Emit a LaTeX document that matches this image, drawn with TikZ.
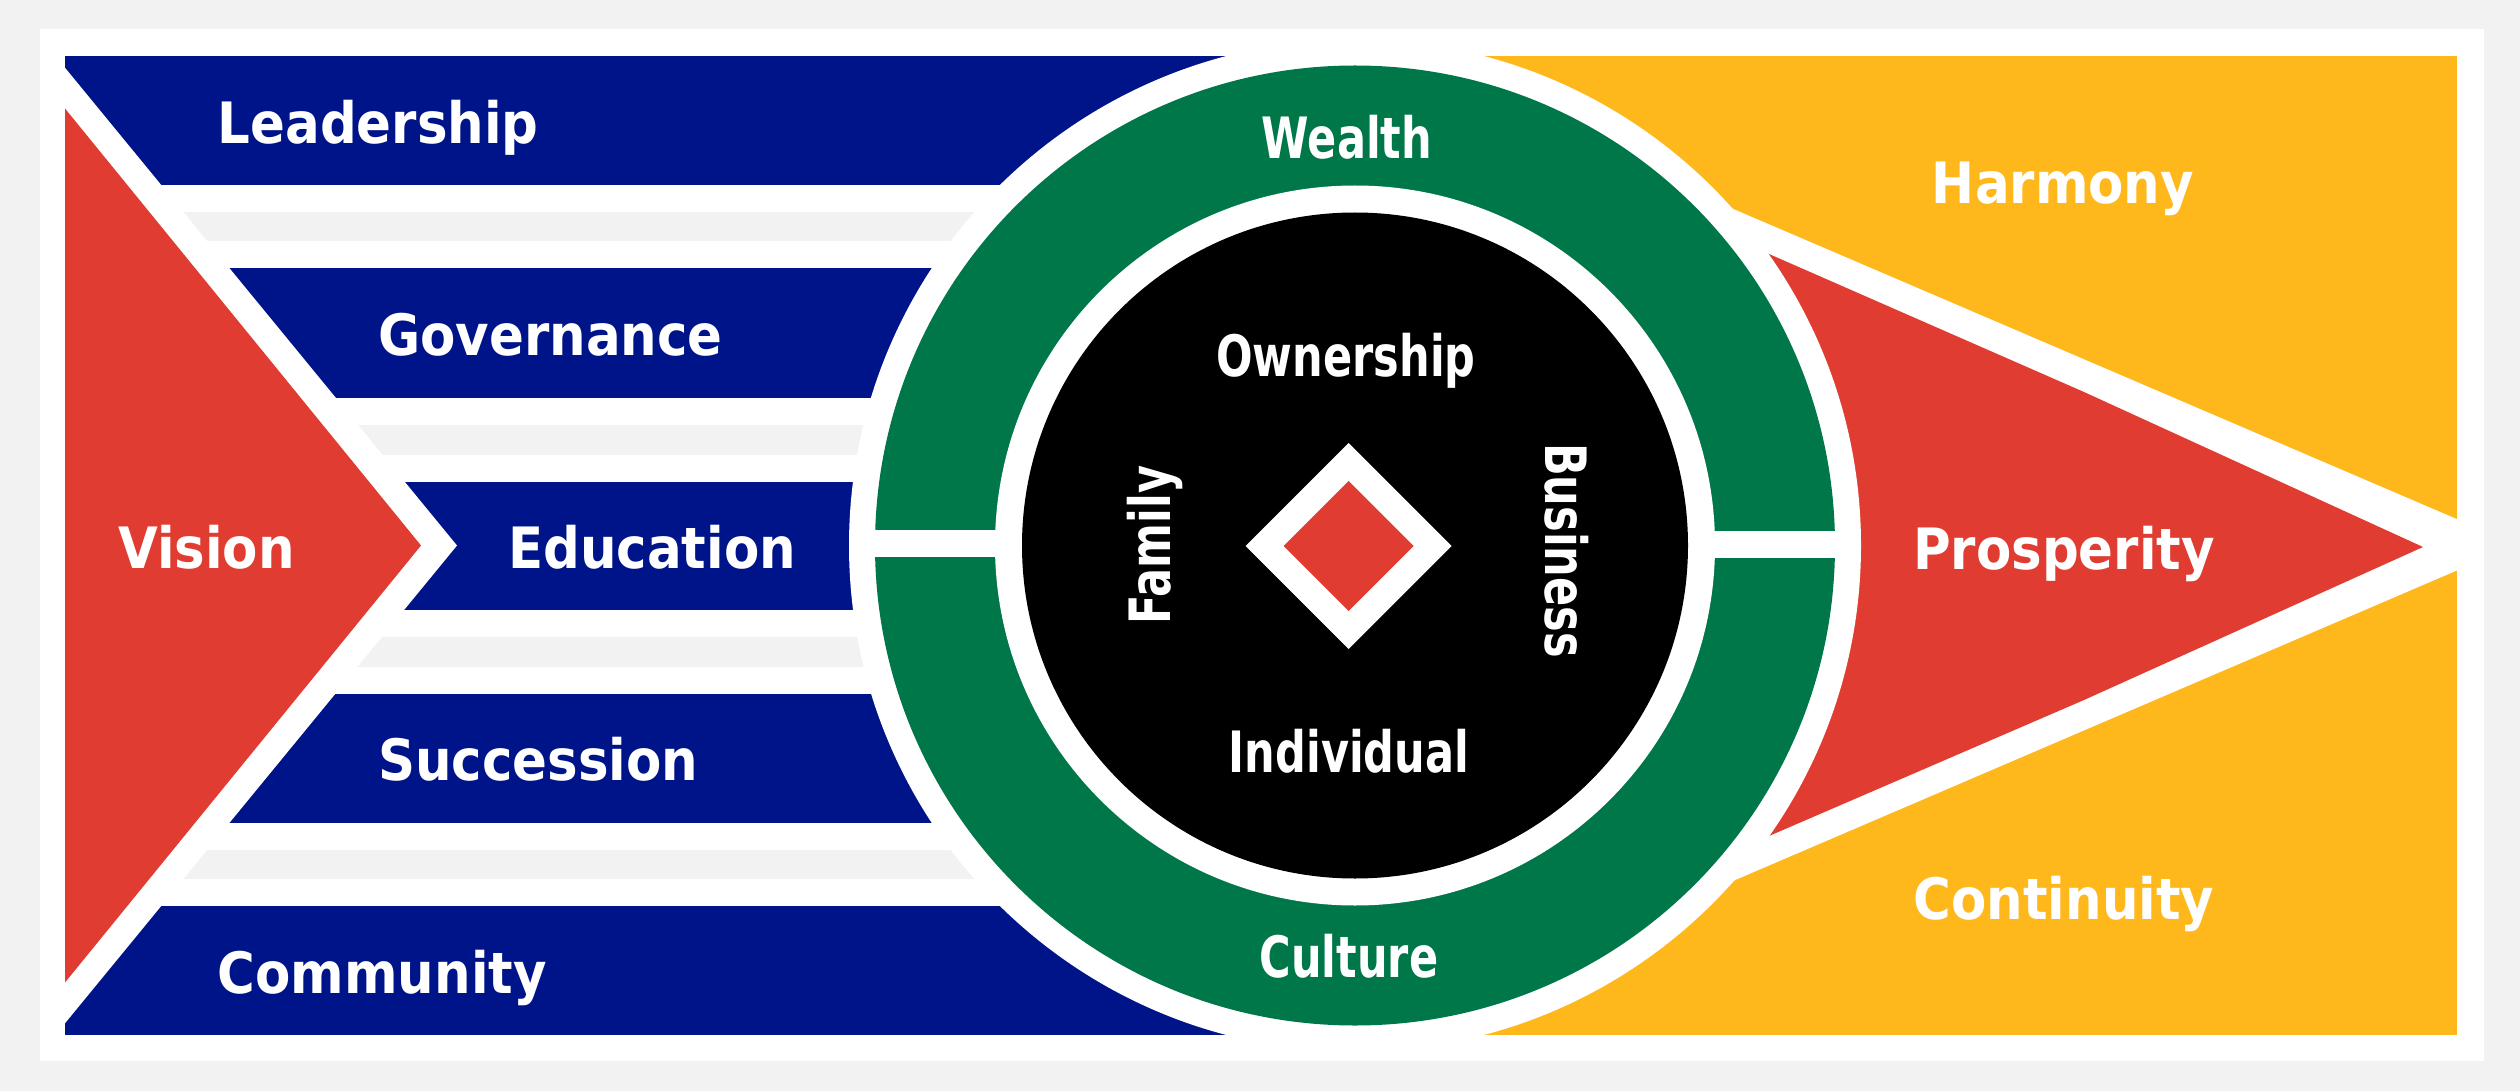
\documentclass[tikz,border=0pt]{standalone}
\usepackage{fontspec}
\newfontfamily\outerfont{DejaVu Sans}[FakeStretch=0.902]
\newfontfamily\innerfont{DejaVu Sans}[FakeStretch=0.755]
\definecolor{bggray}{HTML}{F2F2F2}
\definecolor{sablue}{HTML}{001489}
\definecolor{sared}{HTML}{E03C31}
\definecolor{sagreen}{HTML}{007749}
\definecolor{sayellow}{HTML}{FFB81C}
\begin{document}
\begin{tikzpicture}[x=1pt,y=-1pt,
  lbl/.style={text=white,inner sep=0pt,font=\outerfont\bfseries\fontsize{57}{60}\selectfont},
  ilbl/.style={text=white,inner sep=0pt,font=\innerfont\bfseries\fontsize{57}{60}\selectfont}]
\useasboundingbox (0,0) rectangle (2520,1091);
\fill[bggray] (0,0) rectangle (2520,1091);
\fill[white] (40,29) rectangle (2484,1061);
% left bands
\fill[sablue] (65,56) rectangle (1355,185.5);
\fill[bggray] (65,212.5) rectangle (1355,241.5);
\fill[sablue] (65,268.5) rectangle (1355,397.5);
\fill[bggray] (65,424.5) rectangle (1355,454.5);
\fill[sablue] (65,481.5) rectangle (1355,609.5);
\fill[bggray] (65,636.5) rectangle (1355,666.5);
\fill[sablue] (65,693.5) rectangle (1355,822.5);
\fill[bggray] (65,849.5) rectangle (1355,878.5);
\fill[sablue] (65,905.5) rectangle (1355,1035);
% white chevron and vision triangle
\fill[white] (64,66.5) -- (457,545.5) -- (64,1024.5) -- cycle;
\fill[sared] (65,108.5) -- (421,545.5) -- (65,982.5) -- cycle;
% right side
\fill[sayellow] (1355,56) rectangle (2457,1035);
\fill[white] (1600,151.9) -- (2458,519.6) -- (2458,570) -- (1600,938) -- cycle;
\fill[sared] (1650,201.8) -- (1769,254) -- (2084,392) -- (2423,547) -- (2084,700) -- (1769,836) -- (1650,887.4) -- cycle;
% rings
\fill[white] (1355,545.5) circle[radius=506pt];
\fill[sagreen] (1355,545.5) circle[radius=480pt];
\fill[white] (1355,545.5) circle[radius=360pt];
\fill[white] (860,529.5) rectangle (1010,556.5);
\fill[white] (1700,531) rectangle (1850,558);
\fill[black] (1355,545.5) circle[radius=333pt];
% diamond
\fill[white] (1348.5,443) -- (1451.5,546) -- (1348.5,649) -- (1245.5,546) -- cycle;
\fill[sared] (1348.5,481) -- (1413.5,546) -- (1348.5,611) -- (1283.5,546) -- cycle;
% labels
\node[lbl,anchor=base west] (lead) at (217.5,143.6) {Leadership};
\node[lbl,anchor=base west] (gov) at (378,355.4) {Governance};
\node[lbl,anchor=base west] (edu) at (508,568) {Education};
\node[lbl,anchor=base west] (succ) at (378,780.7) {Succession};
\node[lbl,anchor=base west] (comm) at (217.5,993.3) {Community};
\node[lbl,anchor=base west] (vis) at (118,568.8) {Vision};
\node[lbl,anchor=base] (harm) at (2063,203.6) {Harmony};
\node[lbl,anchor=base] (pros) at (2064,569.3) {Prosperity};
\node[lbl,anchor=base] (cont) at (2064,919) {Continuity};
\node[ilbl,anchor=base] (wealth) at (1347,159) {Wealth};
\node[ilbl,anchor=base] (cult) at (1349,977) {Culture};
\node[ilbl,anchor=base] (own) at (1346,377) {Ownership};
\node[ilbl,anchor=base] (ind) at (1349,772) {Individual};
\node[ilbl,anchor=base,rotate=90] (fam) at (1170,545) {Family};
\node[ilbl,anchor=base,rotate=-90] (bus) at (1545,550.5) {Business};
\end{tikzpicture}
\end{document}
